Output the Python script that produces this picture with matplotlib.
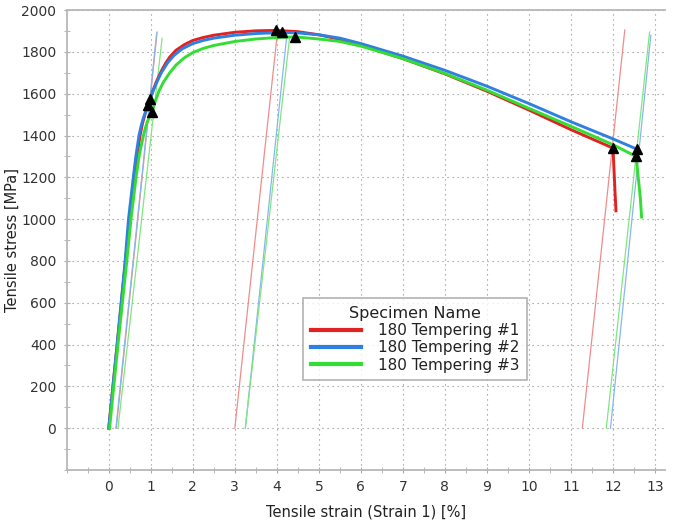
import matplotlib
matplotlib.use("Agg")
import matplotlib.pyplot as plt
from matplotlib.ticker import MultipleLocator

specimens = ["180 Tempering #1", "180 Tempering #2", "180 Tempering #3"]
colors = ["#e02222", "#2f80e0", "#33dd33"]
thin_colors = ["#f08c8c", "#86b8ee", "#80e680"]

# stress-strain curves, strain in %, stress in MPa
strain_1 = [0.0, 0.2, 0.40, 0.49, 0.605, 0.67, 0.745, 0.80, 0.86, 0.92, 0.98, 1.05,
            1.15, 1.25, 1.35, 1.45, 1.6, 1.8, 2.0, 2.25, 2.5, 3.0, 3.5, 3.97, 4.5, 5.0,
            5.5, 6.0, 7.0, 8.0, 9.0, 10.0, 11.0, 12.0, 12.02, 12.05, 12.07]
stress_1 = [0, 400, 800, 1000, 1200, 1300, 1400, 1455, 1500, 1540, 1573, 1615,
            1665, 1708, 1745, 1775, 1808, 1835, 1855, 1869, 1880, 1894, 1901, 1903,
            1897, 1882, 1860, 1832, 1768, 1695, 1612, 1522, 1428, 1340, 1250, 1120,
            1040]

strain_2 = [0.0, 0.2, 0.39, 0.47, 0.585, 0.645, 0.72, 0.77, 0.82, 0.88, 0.94, 1.02,
            1.12, 1.25, 1.4, 1.55, 1.75, 2.0, 2.25, 2.5, 3.0, 3.5, 4.12, 4.5, 5.0, 5.5,
            6.0, 7.0, 8.0, 9.0, 10.0, 11.0, 12.0, 12.58, 12.6]
stress_2 = [0, 400, 800, 1000, 1200, 1300, 1400, 1445, 1482, 1515, 1544, 1595,
            1645, 1700, 1748, 1783, 1815, 1840, 1855, 1866, 1880, 1888, 1893, 1891,
            1882, 1866, 1840, 1780, 1712, 1636, 1553, 1466, 1384, 1334, 1290]

strain_3 = [0.02, 0.22, 0.43, 0.53, 0.65, 0.73, 0.82, 0.87, 0.92, 0.97, 1.03, 1.1,
            1.2, 1.3, 1.45, 1.6, 1.8, 2.0, 2.25, 2.5, 3.0, 3.5, 4.0, 4.43, 5.0, 5.5,
            6.0, 7.0, 8.0, 9.0, 10.0, 11.0, 12.0, 12.55, 12.6, 12.65, 12.68]
stress_3 = [0, 400, 800, 1000, 1200, 1310, 1395, 1435, 1467, 1490, 1512, 1560,
            1615, 1655, 1700, 1737, 1772, 1797, 1817, 1831, 1850, 1862, 1869, 1872,
            1862, 1850, 1828, 1768, 1697, 1617, 1530, 1444, 1356, 1300, 1200, 1100,
            1010]

# yield / max / break markers
mark_strain_1 = [0.98, 3.97, 12.0]
mark_stress_1 = [1573, 1903, 1340]
mark_strain_2 = [0.94, 4.12, 12.58]
mark_stress_2 = [1544, 1893, 1334]
mark_strain_3 = [1.03, 4.43, 12.55]
mark_stress_3 = [1512, 1872, 1300]

# modulus lines: (strain at 0 MPa, strain at top, stress at top)
mod_1 = [(0.18, 1.15, 1895), (3.0, 4.02, 1905), (11.27, 12.28, 1905)]
mod_2 = [(0.17, 1.14, 1890), (3.25, 4.24, 1885), (11.94, 12.90, 1880)]
mod_3 = [(0.22, 1.27, 1865), (3.25, 4.30, 1862), (11.84, 12.87, 1895)]

curves = [(strain_1, stress_1), (strain_2, stress_2), (strain_3, stress_3)]
marks = [(mark_strain_1, mark_stress_1), (mark_strain_2, mark_stress_2),
         (mark_strain_3, mark_stress_3)]
mods = [mod_1, mod_2, mod_3]

fig = plt.figure(figsize=(6.78, 5.22), dpi=100)
ax = fig.add_axes([0.0984, 0.0996, 0.882, 0.881])

for mod, tc in zip(mods, thin_colors):
    for x0, x1, y1 in mod:
        ax.plot([x0, x1], [0, y1], color=tc, lw=0.9, zorder=2)

for (x, y), c, name in zip(curves, colors, specimens):
    ax.plot(x, y, color=c, lw=2.1, label=name, zorder=3, solid_joinstyle="round")

for mx, my in marks:
    ax.plot(mx, my, ls="none", marker="^", ms=6.5, color="black", zorder=4)

ax.set_xlim(-1, 13.23)
ax.set_ylim(-200, 2000)
ax.set_xticks(range(0, 14))
ax.set_yticks(range(0, 2001, 200))
ax.xaxis.set_minor_locator(MultipleLocator(0.5))
ax.yaxis.set_minor_locator(MultipleLocator(100))
ax.tick_params(which="major", direction="inout", length=5, color="#aaaaaa",
               labelsize=10, labelcolor="#333333", pad=5)
ax.tick_params(which="minor", direction="inout", length=4, color="#aaaaaa")
ax.grid(True, which="major", color="#8a8a8a", lw=0.8, ls=(0, (1, 3.5)))

for side in ("left", "bottom", "top"):
    ax.spines[side].set_color("#b8b8b8")
    ax.spines[side].set_linewidth(1.3)
ax.spines["right"].set_visible(False)

ax.set_xlabel("Tensile strain (Strain 1) [%]", fontsize=10.5, color="#222222")
ax.set_ylabel("Tensile stress [MPa]", fontsize=10.5, color="#222222")
ax.xaxis.set_label_coords(0.5, -0.076)
ax.yaxis.set_label_coords(-0.078, 0.5)

leg = ax.legend(title="Specimen Name", loc="upper left", bbox_to_anchor=(0.395, 0.374),
                fontsize=11, title_fontsize=11.5, frameon=True, fancybox=False,
                handlelength=3.3, handletextpad=1.1, labelspacing=0.15,
                borderpad=0.5, borderaxespad=0)
leg.get_frame().set_edgecolor("#a0a0a0")
leg.get_frame().set_linewidth(1.2)
for line in leg.get_lines():
    line.set_linewidth(3)
for t in leg.get_texts():
    t.set_color("#222222")
leg.get_title().set_color("#222222")

fig.savefig("out.png", dpi=100)
